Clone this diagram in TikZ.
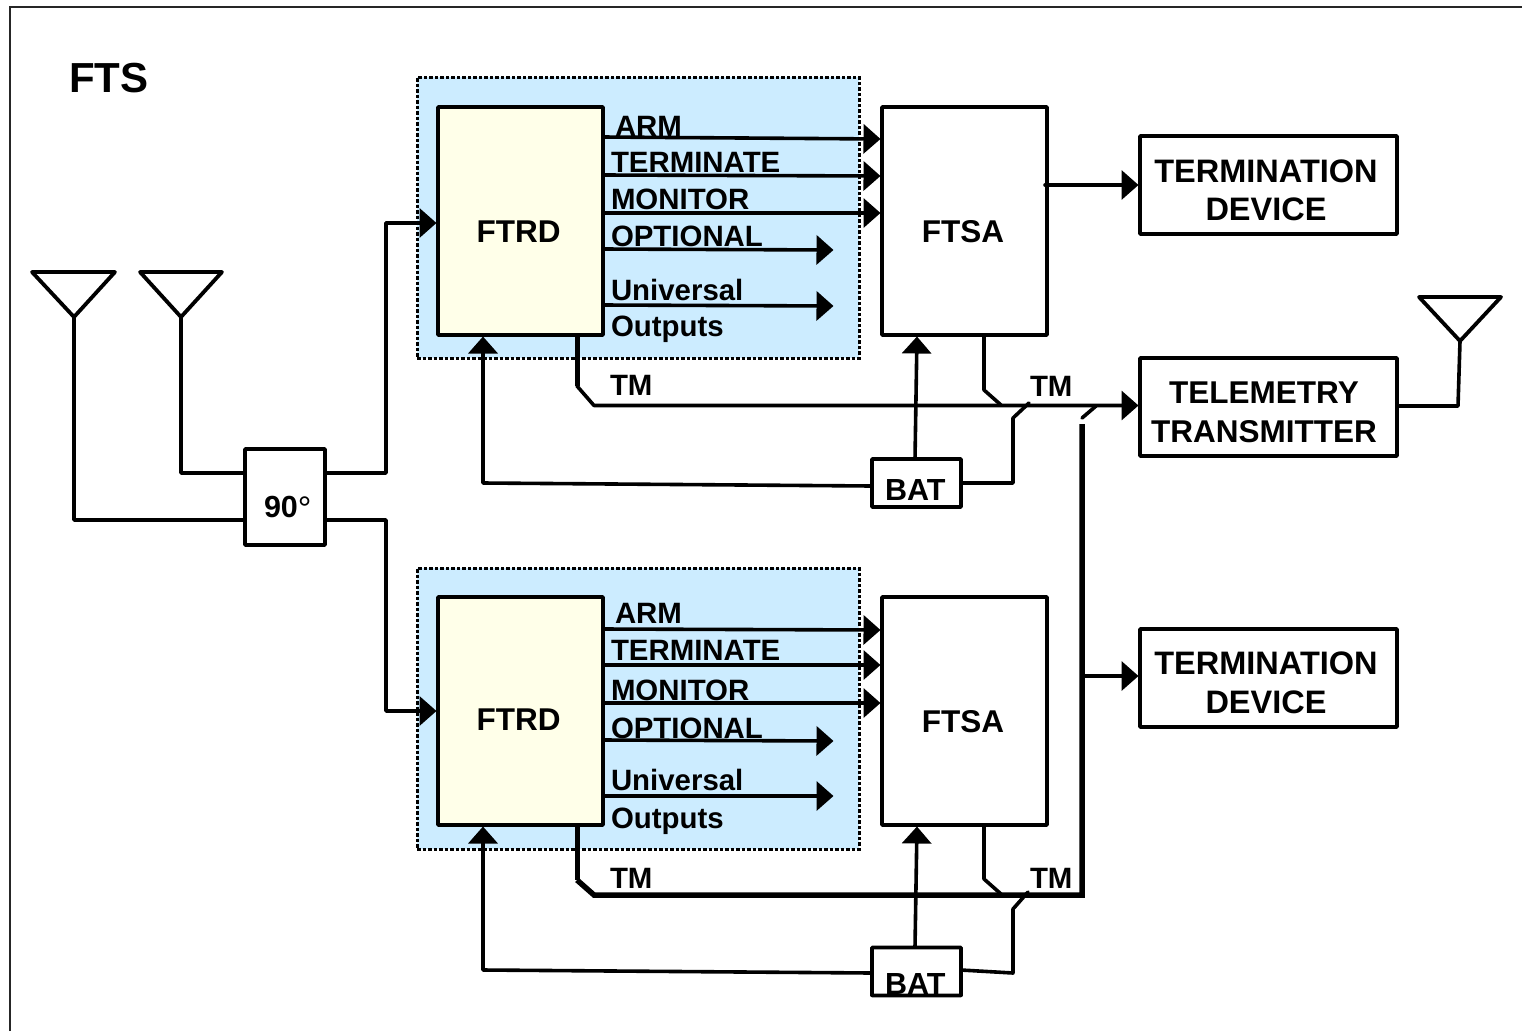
\documentclass[tikz,border=0pt]{standalone}
\usepackage{fontspec}
\setmainfont{Liberation Sans}
\usetikzlibrary{arrows.meta}
\definecolor{panelblue}{HTML}{CCECFF}
\definecolor{cream}{HTML}{FFFFE9}
\tikzset{
  wire/.style={line width=3.6pt,line cap=round,line join=round},
  arrowwire/.style={wire,shorten >=1.5pt,-{Triangle[length=17pt,width=29pt]}},
  panel/.style={draw=black,fill=panelblue,line width=3pt,dash pattern=on 3.5pt off 2pt,minimum width=442pt,minimum height=281pt,inner sep=0pt,outer sep=0pt},
  ftrdbox/.style={draw=black,fill=cream,line width=3.8pt,rounded corners=0.8pt,minimum width=165pt,minimum height=228pt,inner sep=0pt,outer sep=0pt},
  ftsabox/.style={draw=black,fill=white,line width=3.8pt,rounded corners=0.8pt,minimum width=165pt,minimum height=228pt,inner sep=0pt,outer sep=0pt},
  devbox/.style={draw=black,fill=white,line width=3.8pt,rounded corners=0.8pt,minimum width=257pt,minimum height=98pt,inner sep=0pt,outer sep=0pt},
  batbox/.style={draw=black,fill=white,line width=3.8pt,rounded corners=0.8pt,minimum width=89pt,minimum height=48pt,inner sep=0pt,outer sep=0pt},
  phasebox/.style={draw=black,fill=white,line width=3.8pt,rounded corners=0.8pt,minimum width=80pt,minimum height=96pt,inner sep=0pt,outer sep=0pt},
  sig/.style={font=\fontsize{29.4}{29.4}\selectfont\bfseries,anchor=base west,inner sep=0pt,outer sep=0pt},
  head/.style={font=\fontsize{31.5}{31.5}\selectfont\bfseries,anchor=base,inner sep=0pt,outer sep=0pt},
  devtext/.style={font=\fontsize{32.5}{32.5}\selectfont\bfseries,anchor=base,inner sep=0pt,outer sep=0pt},
  battext/.style={font=\fontsize{30.5}{30.5}\selectfont\bfseries,anchor=base west,inner sep=0pt,outer sep=0pt},
  ant/.style={line width=3.8pt,line join=round,line cap=round}
}
\begin{document}
\begin{tikzpicture}[x=1pt,y=-1pt]
\useasboundingbox (0,0) rectangle (1522,1031);
\fill[white] (0,0) rectangle (1522,1031);
% frame
\draw[line width=1.8pt,draw=black!85] (10,1031) -- (10,7) -- (1522,7);
\node[font=\fontsize{42}{42}\selectfont\bfseries,anchor=base west,inner sep=0pt] (title) at (69,92) {FTS};

% panels
\node[panel] (panelA) at (638,217.5) {};
\node[panel] (panelB) at (638,708.5) {};

% main boxes
\node[ftrdbox] (ftrdA) at (520.5,221) {};
\node[ftrdbox] (ftrdB) at (520.5,711) {};
\node[ftsabox] (ftsaA) at (964.5,221) {};
\node[ftsabox] (ftsaB) at (964.5,711) {};
\node[head] (ftrdAt) at (518.5,242) {FTRD};
\node[head] (ftrdBt) at (518.5,730) {FTRD};
\node[head] (ftsaAt) at (963,242) {FTSA};
\node[head] (ftsaBt) at (963,732) {FTSA};

\node[devbox] (termA) at (1268.5,185) {};
\node[devbox] (telem) at (1268.5,407) {};
\node[devbox] (termB) at (1268.5,678) {};
\node[devtext] (termAa) at (1266,182) {TERMINATION};
\node[devtext] (termAb) at (1266,220) {DEVICE};
\node[head] (telema) at (1264,403) {TELEMETRY};
\node[head] (telemb) at (1264,442) {TRANSMITTER};
\node[devtext] (termBa) at (1266,674) {TERMINATION};
\node[devtext] (termBb) at (1266,713) {DEVICE};

\node[batbox] (batA) at (916.5,483) {};
\node[batbox] (batB) at (916.5,971.5) {};
\node[battext] (batAt) at (885,500) {BAT};
\node[battext] (batBt) at (885,994) {BAT};
\draw[line width=3.8pt,line cap=round] (batB.south west) -- (batB.south east);

\node[phasebox] (hybrid) at (285,497) {};
\node[battext] (hybridt) at (264,517) {90{\fontsize{34}{34}\selectfont\mdseries\raisebox{-3pt}{°}}};

% antennas
\coordinate (a1) at (74,317);
\coordinate (a2) at (181,317);
\coordinate (a3) at (1460,341);
\draw[ant] (32,272) -- (115,272) -- (a1) -- cycle;
\draw[ant] (140,272) -- (222,272) -- (a2) -- cycle;
\draw[ant] (1419,297) -- (1501,297) -- (a3) -- cycle;
\draw[wire] (a1) -- (74,520) -- (hybrid.west |- 0,520);
\draw[wire] (a2) -- (181,473) -- (hybrid.west |- 0,473);
\draw[wire] (a3) -- (1458,406) -- (telem.east |- 0,406);

% hybrid to receivers
\draw[arrowwire] (hybrid.east |- 0,473) -- (386,473) -- (386,223) -- (ftrdA.west |- 0,223);
\draw[arrowwire] (hybrid.east |- 0,520) -- (386,520) -- (386,711) -- (ftrdB.west |- 0,711);

% upper signals
\draw[arrowwire] (ftrdA.east |- 0,137) -- (ftsaA.west |- 0,139);
\draw[arrowwire] (ftrdA.east |- 0,175) -- (ftsaA.west |- 0,176);
\draw[arrowwire] (ftrdA.east |- 0,213) -- (ftsaA.west |- 0,213);
\coordinate (optA) at (835,250);
\coordinate (uniA) at (835,306);
\draw[arrowwire] (ftrdA.east |- 0,249) -- (optA);
\draw[arrowwire] (ftrdA.east |- 0,305) -- (uniA);
\node[sig] (armA) at (615,136) {ARM};
\node[sig] (terA) at (611,172) {TERMINATE};
\node[sig] (monA) at (611,209) {MONITOR};
\node[sig] (optAt) at (611,246) {OPTIONAL};
\node[sig] (uniAt) at (611,300) {Universal};
\node[sig] (outAt) at (611,336) {Outputs};

% lower signals
\draw[arrowwire] (ftrdB.east |- 0,629) -- (ftsaB.west |- 0,630);
\draw[arrowwire] (ftrdB.east |- 0,665) -- (ftsaB.west |- 0,665);
\draw[arrowwire] (ftrdB.east |- 0,703) -- (ftsaB.west |- 0,703);
\coordinate (optB) at (835,741);
\coordinate (uniB) at (835,796);
\draw[arrowwire] (ftrdB.east |- 0,740) -- (optB);
\draw[arrowwire] (ftrdB.east |- uniB) -- (uniB);
\node[sig] (armB) at (615,623) {ARM};
\node[sig] (terB) at (611,660) {TERMINATE};
\node[sig] (monB) at (611,700) {MONITOR};
\node[sig] (optBt) at (611,738) {OPTIONAL};
\node[sig] (uniBt) at (611,790) {Universal};
\node[sig] (outBt) at (611,828) {Outputs};

% FTSA to termination devices
\draw[arrowwire] (1045,185) -- (termA.west |- 0,185);
\draw[arrowwire] (1082,676) -- (termB.west |- 0,676);

% telemetry
\draw[line width=5pt] (ftrdA.south -| 577,0) -- (577,386);
\draw[arrowwire] (577,386) -- (594,405.5) -- (telem.west |- 0,405.5);
\draw[line width=5pt] (ftrdB.south -| 577,0) -- (577,880);
\draw[line width=5.5pt,line join=miter] (577,880) -- (594,895) -- (1082,895) -- (1082,424);
\draw[wire] (1082,418) -- (1096,406);
\draw[wire] (ftsaA.south -| 984,0) -- (984,390) -- (1001,405);
\draw[wire] (ftsaB.south -| 984,0) -- (984,879) -- (1001,894);
\node[sig] (tmA1) at (610,395) {TM};
\node[sig] (tmA2) at (1030,396) {TM};
\node[sig] (tmB1) at (610,888) {TM};
\node[sig] (tmB2) at (1030,888) {TM};

% batteries
\draw[arrowwire] (915,459) -- (917,335);
\draw[arrowwire] (915,947) -- (917,825);
\draw[wire] (batA.east |- 0,483) -- (1013,483) -- (1013,418) -- (1029,403);
\draw[wire] (batB.east |- 0,970) -- (1013,973) -- (1013,909) -- (1028,892);
\draw[arrowwire] (batA.west |- 0,486) -- (483,483) -- (483,335);
\draw[arrowwire] (batB.west |- 0,973) -- (483,970) -- (483,825);
\end{tikzpicture}
\end{document}
